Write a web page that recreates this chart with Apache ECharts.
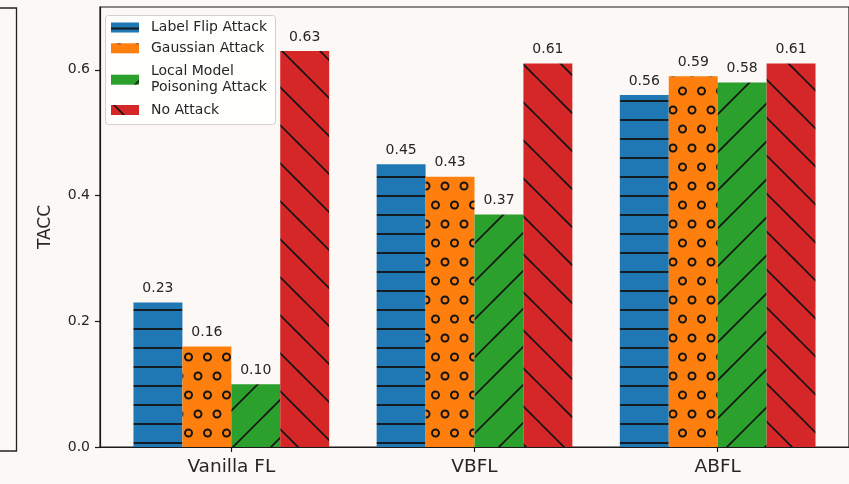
<!DOCTYPE html>
<html>
<head>
<meta charset="utf-8">
<script src="https://cdn.jsdelivr.net/npm/echarts@6/dist/echarts.min.js"></script>
<style>
  html, body { margin: 0; padding: 0; background: #fbf8f5; }
  #chart { width: 849px; height: 484px; }
</style>
</head>
<body>
<div id="chart"></div>
<script>
// Test accuracy (TACC) of three federated-learning schemes under different attacks
const categories = ['Vanilla FL', 'VBFL', 'ABFL'];
const seriesNames = ['Label Flip Attack', 'Gaussian Attack', 'Local Model\nPoisoning Attack', 'No Attack'];
const labelFlip = [0.23, 0.45, 0.56];
const gaussian = [0.16, 0.43, 0.59];
const localPoison = [0.10, 0.37, 0.58];
const noAttack = [0.63, 0.61, 0.61];
const yTicks = [0, 0.2, 0.4, 0.6];

const FONT = 'DejaVu Sans';
const TEXT = '#262626';
const AXIS = '#1a1a1a';
const HATCH = '#141414';
const palette = ['#1f77b4', '#ff7f0e', '#2ca02c', '#d62728'];

// x range of the bar axis (groups sit at 0, 1, 2) and plot geometry
const X_MIN = -0.54, X_MAX = 2.54;
const GRID_LEFT = 100, GRID_TOP = 7, GRID_W = 753.4, GRID_H = 440;
const BAR_W = 0.2 * GRID_W / (X_MAX - X_MIN);

// ---- hatch tiles ----
function tile(w, h, draw) {
  const c = document.createElement('canvas');
  c.width = w; c.height = h;
  const ctx = c.getContext('2d');
  draw(ctx, w, h);
  return c;
}
function horizontalHatch(bg) {
  return tile(19, 19, (ctx, w, h) => {
    ctx.fillStyle = bg; ctx.fillRect(0, 0, w, h);
    ctx.strokeStyle = HATCH; ctx.lineWidth = 1.8;
    ctx.beginPath(); ctx.moveTo(0, 6); ctx.lineTo(w, 6); ctx.stroke();
  });
}
function ringHatch(bg) {
  return tile(19, 38, (ctx, w, h) => {
    ctx.fillStyle = bg; ctx.fillRect(0, 0, w, h);
    ctx.strokeStyle = HATCH; ctx.lineWidth = 2;
    const centers = [[17.5, 15], [8, 34]];
    centers.forEach(([cx, cy]) => {
      for (let dx = -w; dx <= w; dx += w) {
        for (let dy = -h; dy <= h; dy += h) {
          ctx.beginPath(); ctx.arc(cx + dx, cy + dy, 3.5, 0, Math.PI * 2); ctx.stroke();
        }
      }
    });
  });
}
function diagonalHatch(bg, rising, phase) {
  return tile(38, 38, (ctx, w, h) => {
    ctx.fillStyle = bg; ctx.fillRect(0, 0, w, h);
    ctx.strokeStyle = HATCH; ctx.lineWidth = 1.6;
    for (let k = -2; k <= 3; k++) {
      const c = phase + 38 * k;
      ctx.beginPath();
      if (rising) { ctx.moveTo(-6, c + 6); ctx.lineTo(44, c - 44); }
      else { ctx.moveTo(-6, c - 6); ctx.lineTo(44, c + 44); }
      ctx.stroke();
    }
  });
}

const fills = [
  horizontalHatch(palette[0]),
  ringHatch(palette[1]),
  diagonalHatch(palette[2], true, 34),
  diagonalHatch(palette[3], false, 35)
];
const values = [labelFlip, gaussian, localPoison, noAttack];

const series = values.map((vals, i) => ({
  name: seriesNames[i],
  type: 'bar',
  barWidth: BAR_W,
  barGap: '0%',
  data: vals.map((v, j) => [j, v]),
  itemStyle: { color: { image: fills[i], repeat: 'repeat' } },
  label: {
    show: true, position: 'top', distance: 7,
    formatter: p => p.value[1].toFixed(2),
    fontSize: 14, color: TEXT, fontFamily: FONT
  },
  emphasis: { disabled: true }
}));

// one legend block per entry so two-line names keep their own spacing
const legendCenters = [27.5, 48.3, 79.7, 110];
const LEGEND_LINE = 16;
const legends = seriesNames.map((n, i) => {
  const lines = n.split('\n').length;
  return {
    data: [n],
    left: 111,
    top: legendCenters[i] - lines * LEGEND_LINE / 2,
    orient: 'vertical',
    padding: 0,
    icon: 'rect',
    itemWidth: 28,
    itemHeight: 10,
    selectedMode: false,
    z: 10,
    textStyle: { fontSize: 14, lineHeight: LEGEND_LINE, color: TEXT, fontFamily: FONT, padding: [0, 0, 0, 7] }
  };
});

const chart = echarts.init(document.getElementById('chart'), null, { renderer: 'canvas' });
chart.setOption({
  animation: false,
  backgroundColor: '#fbf8f5',
  textStyle: { fontFamily: FONT },
  grid: {
    left: GRID_LEFT, top: GRID_TOP, width: GRID_W, height: GRID_H,
    show: true, borderColor: AXIS, borderWidth: 1.2, backgroundColor: 'transparent'
  },
  legend: legends,
  xAxis: {
    type: 'value', min: X_MIN, max: X_MAX,
    splitLine: { show: false },
    axisLine: { show: true, onZero: false, lineStyle: { color: AXIS, width: 1.2 } },
    axisTick: { show: true, customValues: [0, 1, 2], length: 5, lineStyle: { color: AXIS, width: 1.2 } },
    axisLabel: {
      customValues: [0, 1, 2],
      formatter: v => categories[Math.round(v)],
      fontSize: 18.5, color: TEXT, margin: 11, fontFamily: FONT
    }
  },
  yAxis: {
    type: 'value', min: 0, max: 0.7,
    name: 'TACC', nameLocation: 'middle', nameGap: 46,
    nameTextStyle: { fontSize: 17, color: TEXT, fontFamily: FONT },
    splitLine: { show: false },
    axisLine: { show: true, onZero: false, lineStyle: { color: AXIS, width: 1.2 } },
    axisTick: { show: true, customValues: yTicks, length: 5, lineStyle: { color: AXIS, width: 1.2 } },
    axisLabel: {
      customValues: yTicks,
      formatter: v => v.toFixed(1),
      fontSize: 14, color: TEXT, margin: 10, fontFamily: FONT
    }
  },
  graphic: [
    {
      type: 'rect', z: 3, silent: true,
      shape: { x: 105.5, y: 15.5, width: 170, height: 109, r: 3 },
      style: { fill: 'rgba(255,255,255,0.8)', stroke: '#d0d0d0', lineWidth: 1 }
    },
    {
      type: 'polyline', z: 3, silent: true,
      shape: { points: [[0, 8], [16.5, 8], [16.5, 451], [0, 451]] },
      style: { fill: null, stroke: '#222', lineWidth: 1.3 }
    }
  ],
  series: series
});
</script>
</body>
</html>
